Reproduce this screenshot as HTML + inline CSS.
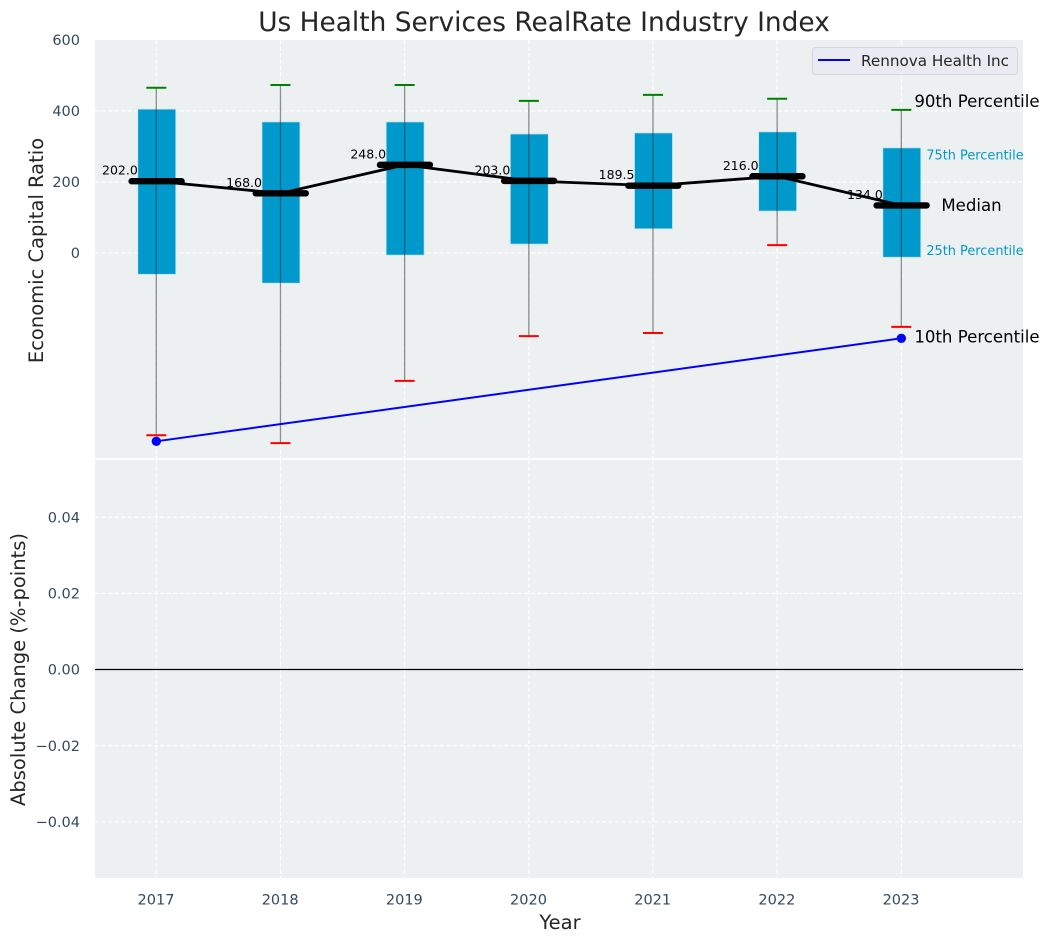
<!DOCTYPE html>
<html lang="en">
<head>
<meta charset="utf-8">
<title>Us Health Services RealRate Industry Index</title>
<style>
html,body{margin:0;padding:0;background:#fff;width:1049px;height:942px;overflow:hidden}
svg{display:block;font-family:"DejaVu Sans","Liberation Sans",sans-serif}
</style>
</head>
<body>
<svg id="chart" xmlns="http://www.w3.org/2000/svg" width="1049" height="942" viewBox="0 0 1049 942"></svg>
<script>
const years = [2017, 2018, 2019, 2020, 2021, 2022, 2023];
const p90 = [465, 473, 473, 428, 445, 434, 403];
const p75 = [405, 369, 369, 335, 338, 341, 296];
const medians = [202, 168, 248, 203, 189.5, 216, 134];
const p25 = [-60, -85, -6, 25, 68, 118, -12];
const p10 = [-513, -535, -360, -234, -225, 22, -208];
const companyYears = [2017, 2023];
const companyValues = [-530, -240];
const topTicks = [0, 200, 400, 600];
const bottomTicks = [-0.04, -0.02, 0, 0.02, 0.04];

const NS = 'http://www.w3.org/2000/svg';
const svg = document.getElementById('chart');
const L = 95, R = 1023, T1 = 40, B1 = 458.2, T2 = 460, B2 = 878;
const X = v => 156.3 + (v - 2017) * 124.17;
const Y1 = v => 253 - v * 0.3553;
const Y2 = v => 669.5 - v * 3808;
const TICK = 14.5, AXIS = 19.5, NOTE = 16.6, SMALL = 12.9;

function mk(tag, attrs, parent, text) {
  const el = document.createElementNS(NS, tag);
  for (const k in attrs) el.setAttribute(k, attrs[k]);
  if (text !== undefined) el.textContent = text;
  (parent || svg).appendChild(el);
  return el;
}
let el;

el = mk('rect', {x: L, y: T1, width: R - L, height: B1 - T1, fill: '#ecf0f1'});


el = mk('rect', {x: L, y: T2, width: R - L, height: B2 - T2, fill: '#ecf0f1'});



const gridAttrs = {stroke: '#ffffff', 'stroke-width': 1.1, 'stroke-dasharray': '4.5 2', opacity: 0.95};

years.forEach(y => {
  el = mk('line', Object.assign({x1: X(y), x2: X(y), y1: T1, y2: B1}, gridAttrs));
  
  
  el = mk('line', Object.assign({x1: X(y), x2: X(y), y1: T2, y2: B2}, gridAttrs));
  
  
  el = mk('text', {x: X(y) - 0.3, y: 904.5, 'text-anchor': 'middle', 'font-size': TICK, fill: '#34495e'}, svg, String(y));
  
  
});

topTicks.forEach(t => {
  if (t < 600) {
    el = mk('line', Object.assign({x1: L, x2: R, y1: Y1(t), y2: Y1(t)}, gridAttrs));
    
    
  }
  el = mk('text', {x: 80, y: Y1(t) + 5.2, 'text-anchor': 'end', 'font-size': TICK, fill: '#34495e'}, svg, String(t));
  
  
});

bottomTicks.forEach(t => {
  if (t !== 0) {
    el = mk('line', Object.assign({x1: L, x2: R, y1: Y2(t), y2: Y2(t)}, gridAttrs));
    
    
  }
  const lbl = (t < 0 ? '\u2212' : '') + Math.abs(t).toFixed(2);
  el = mk('text', {x: 80, y: Y2(t) + 5.2, 'text-anchor': 'end', 'font-size': TICK, fill: '#34495e'}, svg, lbl);
  
  
});

el = mk('line', {x1: L, x2: R, y1: Y2(0), y2: Y2(0), stroke: '#000', 'stroke-width': 1.3});



// interquartile boxes
years.forEach((y, i) => {
  el = mk('rect', {x: X(y) - 18.5, y: Y1(p75[i]), width: 38, height: Y1(p25[i]) - Y1(p75[i]), fill: '#0099cc', stroke: '#c4e4ef', 'stroke-width': 0.8});
  
  
});

// whiskers and caps
years.forEach((y, i) => {
  el = mk('line', {x1: X(y), x2: X(y), y1: Y1(p90[i]), y2: Y1(p10[i]), stroke: '#333', 'stroke-opacity': 0.55, 'stroke-width': 1.3});
  
  
  el = mk('line', {x1: X(y) - 10, x2: X(y) + 10, y1: Y1(p90[i]), y2: Y1(p90[i]), stroke: '#008000', 'stroke-width': 2});
  
  
  el = mk('line', {x1: X(y) - 10, x2: X(y) + 10, y1: Y1(p10[i]), y2: Y1(p10[i]), stroke: '#ff0000', 'stroke-width': 2});
  
  
});

// median labels
years.forEach((y, i) => {
  el = mk('text', {x: X(y) - 18.5, y: Y1(medians[i]) - 6.5, 'text-anchor': 'end', 'font-size': 12.5, fill: '#000'}, svg, medians[i].toFixed(1));
  
  
});

// median trend line
el = mk('polyline', {points: years.map((y, i) => X(y) + ',' + Y1(medians[i])).join(' '), fill: 'none', stroke: '#000', 'stroke-width': 2.8});



// median bars
years.forEach((y, i) => {
  el = mk('line', {x1: X(y) - 24.7, x2: X(y) + 25.3, y1: Y1(medians[i]), y2: Y1(medians[i]), stroke: '#000', 'stroke-width': 6.4, 'stroke-linecap': 'round'});
  
  
});

// company series
el = mk('polyline', {points: companyYears.map((y, i) => X(y) + ',' + Y1(companyValues[i])).join(' '), fill: 'none', stroke: '#0000ff', 'stroke-width': 2});


companyYears.forEach((y, i) => {
  el = mk('circle', {cx: X(y), cy: Y1(companyValues[i]), r: 4.7, fill: '#0000ff'});
  
  
});

// percentile annotations on the last year
const lastIndex = years.length - 1;
const lastX = X(years[lastIndex]);

el = mk('text', {x: lastX + 13, y: Y1(p90[lastIndex]) - 3, 'font-size': NOTE, fill: '#000'}, svg, '90th Percentile');


el = mk('text', {x: lastX + 25, y: Y1(p75[lastIndex]) + 11.5, 'font-size': SMALL, fill: '#0099cc'}, svg, '75th Percentile');


el = mk('text', {x: lastX + 40, y: Y1(medians[lastIndex]) + 5.5, 'font-size': NOTE, fill: '#000'}, svg, 'Median');


el = mk('text', {x: lastX + 25, y: Y1(p25[lastIndex]) - 2.5, 'font-size': SMALL, fill: '#0099cc'}, svg, '25th Percentile');


el = mk('text', {x: lastX + 13, y: Y1(companyValues[companyValues.length - 1]) + 4, 'font-size': NOTE, fill: '#000'}, svg, '10th Percentile');



// legend
el = mk('rect', {x: 812.5, y: 47.5, width: 205, height: 27, rx: 3, fill: '#eaeaf2', stroke: '#d5d5dc', 'stroke-width': 1});


el = mk('line', {x1: 818, x2: 850, y1: 60, y2: 60, stroke: '#0000ff', 'stroke-width': 2});


el = mk('text', {x: 861, y: 66, 'font-size': 15.2, fill: '#262626'}, svg, 'Rennova Health Inc');



// titles
el = mk('text', {x: 544, y: 31, 'text-anchor': 'middle', 'font-size': 26.4, fill: '#262626'}, svg, 'Us Health Services RealRate Industry Index');


el = mk('text', {x: 560, y: 929, 'text-anchor': 'middle', 'font-size': AXIS, fill: '#262626'}, svg, 'Year');


el = mk('text', {transform: 'translate(43 250.5) rotate(-90)', 'text-anchor': 'middle', 'font-size': AXIS, fill: '#262626'}, svg, 'Economic Capital Ratio');


el = mk('text', {transform: 'translate(25 669.5) rotate(-90)', 'text-anchor': 'middle', 'font-size': AXIS, fill: '#262626'}, svg, 'Absolute Change (%-points)');


</script>
</body>
</html>
